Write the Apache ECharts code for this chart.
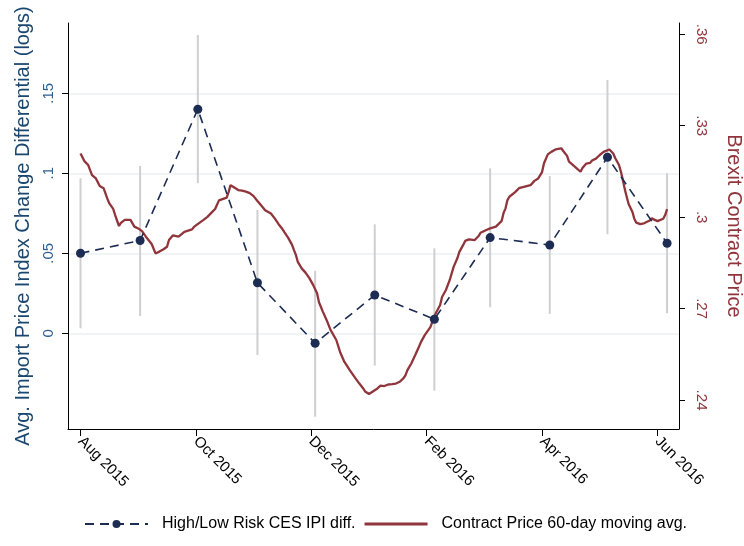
<!DOCTYPE html>
<html>
<head>
<meta charset="utf-8">
<script src="https://cdn.jsdelivr.net/npm/echarts@6/dist/echarts.min.js"></script>
<style>
html,body{margin:0;padding:0;background:#fff;}
#chart{width:744px;height:546px;}
</style>
</head>
<body>
<div id="chart"></div>
<script>
// x positions are days since 1 Aug 2015
var monthLabels = ['Aug 2015','Sep 2015','Oct 2015','Nov 2015','Dec 2015','Jan 2016','Feb 2016','Mar 2016','Apr 2016','May 2016','Jun 2016'];
var monthDays   = [0, 31, 61, 92, 122, 153, 184, 213, 244, 274, 305];
var ipiDiff     = [0.050, 0.058, 0.140, 0.0316, -0.0062, 0.0239, 0.0088, 0.0598, 0.0552, 0.110, 0.0563];
var ciLow       = [0.0031, 0.0108, 0.0938, -0.0136, -0.0521, -0.0202, -0.0359, 0.0163, 0.0121, 0.0619, 0.0125];
var ciHigh      = [0.0969, 0.1046, 0.1864, 0.0771, 0.0391, 0.0681, 0.0531, 0.1031, 0.0983, 0.1583, 0.1000];

var priceDays = [0,2,4,6,8,10,12,14,15,17,18,20,21,23,26,28,30,32,34,37,39,41,43,45,46,48,51,52,54,58,59,62,64,66,68,70,72,73,76,77,78,80,82,84,86,88,90,92,94,96,97,99,101,103,105,106,108,110,111,112,113,115,117,119,121,123,124,126,128,130,133,135,137,140,143,145,147,148,150,151,154,156,158,160,162,164,166,168,169,170,172,174,176,177,179,182,184,187,188,190,192,194,196,197,199,200,202,205,207,208,211,213,216,219,220,221,222,223,226,228,231,234,236,238,240,241,243,245,247,248,250,251,253,254,257,260,261,263,265,266,268,270,272,273,275,276,277,278,280,281,282,283,284,285,287,288,289,291,293,294,296,297,298,300,301,303,304,305];
var priceValues = [0.3209,0.3184,0.3171,0.3138,0.3127,0.3102,0.3095,0.3060,0.3045,0.3027,0.3007,0.2971,0.2981,0.2991,0.2991,0.2969,0.2963,0.2954,0.2936,0.2912,0.2881,0.2887,0.2894,0.2903,0.2925,0.2940,0.2936,0.2940,0.2952,0.2960,0.2968,0.2982,0.2991,0.3001,0.3014,0.3027,0.3055,0.3060,0.3064,0.3082,0.3105,0.3097,0.3089,0.3087,0.3084,0.3079,0.3069,0.3053,0.3038,0.3023,0.3017,0.3012,0.2996,0.2977,0.2961,0.2951,0.2932,0.2909,0.2892,0.2876,0.2853,0.2832,0.2818,0.2800,0.2777,0.2750,0.2721,0.2690,0.2662,0.2630,0.2597,0.2557,0.2528,0.2498,0.2471,0.2454,0.2438,0.2428,0.2420,0.2426,0.2436,0.2447,0.2446,0.2451,0.2452,0.2454,0.2460,0.2472,0.2482,0.2498,0.2520,0.2547,0.2575,0.2590,0.2613,0.2640,0.2676,0.2712,0.2738,0.2761,0.2794,0.2837,0.2866,0.2886,0.2909,0.2922,0.2927,0.2925,0.2938,0.2949,0.2958,0.2963,0.2969,0.2988,0.3014,0.3029,0.3056,0.3067,0.3082,0.3095,0.3100,0.3105,0.3119,0.3127,0.3148,0.3177,0.3206,0.3215,0.3222,0.3227,0.3226,0.3217,0.3201,0.3182,0.3166,0.3149,0.3161,0.3176,0.3178,0.3186,0.3192,0.3204,0.3214,0.3220,0.3222,0.3219,0.3209,0.3194,0.3171,0.3149,0.3122,0.3092,0.3067,0.3043,0.3017,0.2994,0.2982,0.2977,0.2980,0.2982,0.2989,0.2996,0.2992,0.2987,0.2991,0.2995,0.3007,0.3026];

var xTickDays   = [0, 60, 120, 180, 240, 300];
var xTickLabels = ['Aug 2015','Oct 2015','Dec 2015','Feb 2016','Apr 2016','Jun 2016'];
var leftTicks   = [0, 0.05, 0.1, 0.15];
var rightTicks  = [0.24, 0.27, 0.30, 0.33, 0.36];

var FONT = 'Liberation Sans, Arial, sans-serif';
var NAVY = '#1c2c52', MAROON = '#90353b', LBLUE = '#1a476f';
var BAR_ICON = 'path://M0,0L63,0L63,0.01L0,0.01Z M0,3.5L63,3.5L63,6.5L0,6.5Z M0,9.99L63,9.99L63,10L0,10Z';

function dotFmt(v){ var s = String(Math.round(v*1000)/1000); return s === '0' ? '0' : s.replace(/^0/, ''); }

var ipiData = monthDays.map(function(d,i){ return [d, ipiDiff[i]]; });
var ciData  = monthDays.map(function(d,i){ return [d, ciLow[i], ciHigh[i]]; });
var priceData = priceDays.map(function(d,i){ return [d, priceValues[i]]; });

var chart = echarts.init(document.getElementById('chart'), null, {renderer:'canvas'});
chart.setOption({
  backgroundColor: '#ffffff',
  animation: false,
  textStyle: { fontFamily: FONT },
  grid: { left: 68, right: 65, top: 23, bottom: 117, containLabel: false, outerBoundsMode: 'none' },
  legend: {
    left: 79, top: 511,
    itemWidth: 63, itemHeight: 10, itemGap: 9,
    textStyle: { fontFamily: FONT, fontSize: 16, color: '#000', padding: [0,0,0,9] },
    data: [
      { name: 'High/Low Risk CES IPI diff.' },
      { name: 'Contract Price 60-day moving avg.', icon: BAR_ICON }
    ]
  },
  xAxis: {
    type: 'value', min: -6.5, max: 311.2,
    splitLine: { show: false },
    axisLine: { show: true, onZero: false, lineStyle: { color: '#000', width: 1 } },
    axisTick: { show: true, length: 7, customValues: xTickDays, lineStyle: { color: '#000' } },
    axisLabel: {
      customValues: xTickDays, rotate: -45, margin: 10,
      fontSize: 15, color: '#000', fontFamily: FONT,
      formatter: function(v){ var i = xTickDays.indexOf(v); return i >= 0 ? xTickLabels[i] : ''; }
    }
  },
  yAxis: [
    {
      type: 'value', min: -0.0598, max: 0.1939, position: 'left',
      name: 'Avg. Import Price Index Change Differential (logs)',
      nameLocation: 'middle', nameRotate: 90, nameGap: 35,
      nameTextStyle: { fontSize: 20, color: LBLUE, fontFamily: FONT },
      axisLine: { show: true, onZero: false, lineStyle: { color: '#000', width: 1 } },
      axisTick: { show: true, length: 6, customValues: leftTicks, lineStyle: { color: '#000' } },
      axisLabel: { customValues: leftTicks, rotate: 90, margin: 12, fontSize: 15, color: '#2f5f8f', fontFamily: FONT, formatter: dotFmt },
      splitLine: { show: true, lineStyle: { color: '#eaf2f3', width: 1.5 } }
    },
    {
      type: 'value', min: 0.2305, max: 0.3637, position: 'right',
      name: 'Brexit Contract Price',
      nameLocation: 'middle', nameRotate: -90, nameGap: 45,
      nameTextStyle: { fontSize: 20, color: MAROON, fontFamily: FONT },
      axisLine: { show: true, onZero: false, lineStyle: { color: '#000', width: 1 } },
      axisTick: { show: true, length: 6, customValues: rightTicks, lineStyle: { color: '#000' } },
      axisLabel: { customValues: rightTicks, rotate: -90, margin: 15, fontSize: 15, color: MAROON, fontFamily: FONT, formatter: dotFmt },
      splitLine: { show: false }
    }
  ],
  series: [
    {
      name: 'ci', type: 'custom', xAxisIndex: 0, yAxisIndex: 0, z: 1,
      data: ciData, encode: { x: 0, y: [1, 2] },
      renderItem: function(params, api){
        var p1 = api.coord([api.value(0), api.value(1)]);
        var p2 = api.coord([api.value(0), api.value(2)]);
        return { type: 'line', shape: { x1: p1[0], y1: p1[1], x2: p2[0], y2: p2[1] },
                 style: { stroke: '#cfcfcf', lineWidth: 2 } };
      }
    },
    {
      name: 'Contract Price 60-day moving avg.', type: 'line', yAxisIndex: 1, z: 2,
      data: priceData, showSymbol: false, symbol: 'none',
      lineStyle: { color: MAROON, width: 2.3 }, itemStyle: { color: MAROON }
    },
    {
      name: 'High/Low Risk CES IPI diff.', type: 'line', yAxisIndex: 0, z: 3,
      data: ipiData, symbol: 'circle', symbolSize: 9, showSymbol: true,
      lineStyle: { color: NAVY, width: 1.6, type: [9, 6] },
      itemStyle: { color: NAVY }
    }
  ]
});
</script>
</body>
</html>
